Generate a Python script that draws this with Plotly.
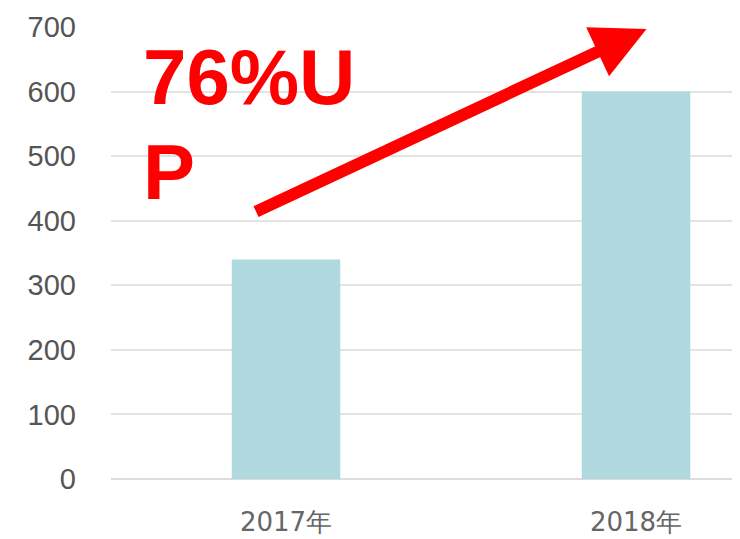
import plotly.graph_objects as go

categories = ["2017年", "2018年"]
values = [340, 600]
y_ticks = [0, 100, 200, 300, 400, 500, 600, 700]
label_line1 = "76%U"
label_line2 = "P"
arrow_tail = (-0.09, 413)
arrow_head = (1.03, 697)

fig = go.Figure()
fig.add_trace(go.Bar(
    x=[0, 1], y=values, width=0.31,
    marker=dict(color="#b0d9df", line=dict(width=0)),
))

fig.add_annotation(
    x=arrow_head[0], y=arrow_head[1], ax=arrow_tail[0], ay=arrow_tail[1],
    xref="x", yref="y", axref="x", ayref="y",
    showarrow=True, arrowhead=2, arrowsize=0.9, arrowwidth=12,
    arrowcolor="#ff0000", text="",
)
fig.add_annotation(
    x=-0.415, y=622, xref="x", yref="y", xanchor="left", yanchor="middle",
    text=label_line1, showarrow=False,
    font=dict(family="Liberation Sans", size=78, color="#ff0000", weight="bold"),
)
fig.add_annotation(
    x=-0.415, y=476, xref="x", yref="y", xanchor="left", yanchor="middle",
    text=label_line2, showarrow=False,
    font=dict(family="Liberation Sans", size=78, color="#ff0000", weight="bold"),
)

fig.update_layout(
    width=732, height=531,
    margin=dict(l=103, r=0, t=19, b=60),
    paper_bgcolor="white", plot_bgcolor="white",
    showlegend=False,
    font=dict(family="Liberation Sans", color="#555555"),
)
fig.update_xaxes(
    range=[-0.5, 1.297], tickvals=[0, 1], ticktext=categories,
    showgrid=False, zeroline=False, showline=False,
    tickfont=dict(family="DejaVu Sans", size=26, color="#666666"),
    ticklabelstandoff=25,
)
fig.update_yaxes(
    range=[0, 700], tickvals=y_ticks, ticktext=[str(v) for v in y_ticks],
    showgrid=True, gridcolor="#e3e3e3", gridwidth=2, zeroline=True,
    zerolinecolor="#dcdcdc", zerolinewidth=2, showline=False,
    tickfont=dict(family="Liberation Sans", size=29, color="#555555"),
    ticklabelstandoff=34,
)

fig.write_html("out.html")
